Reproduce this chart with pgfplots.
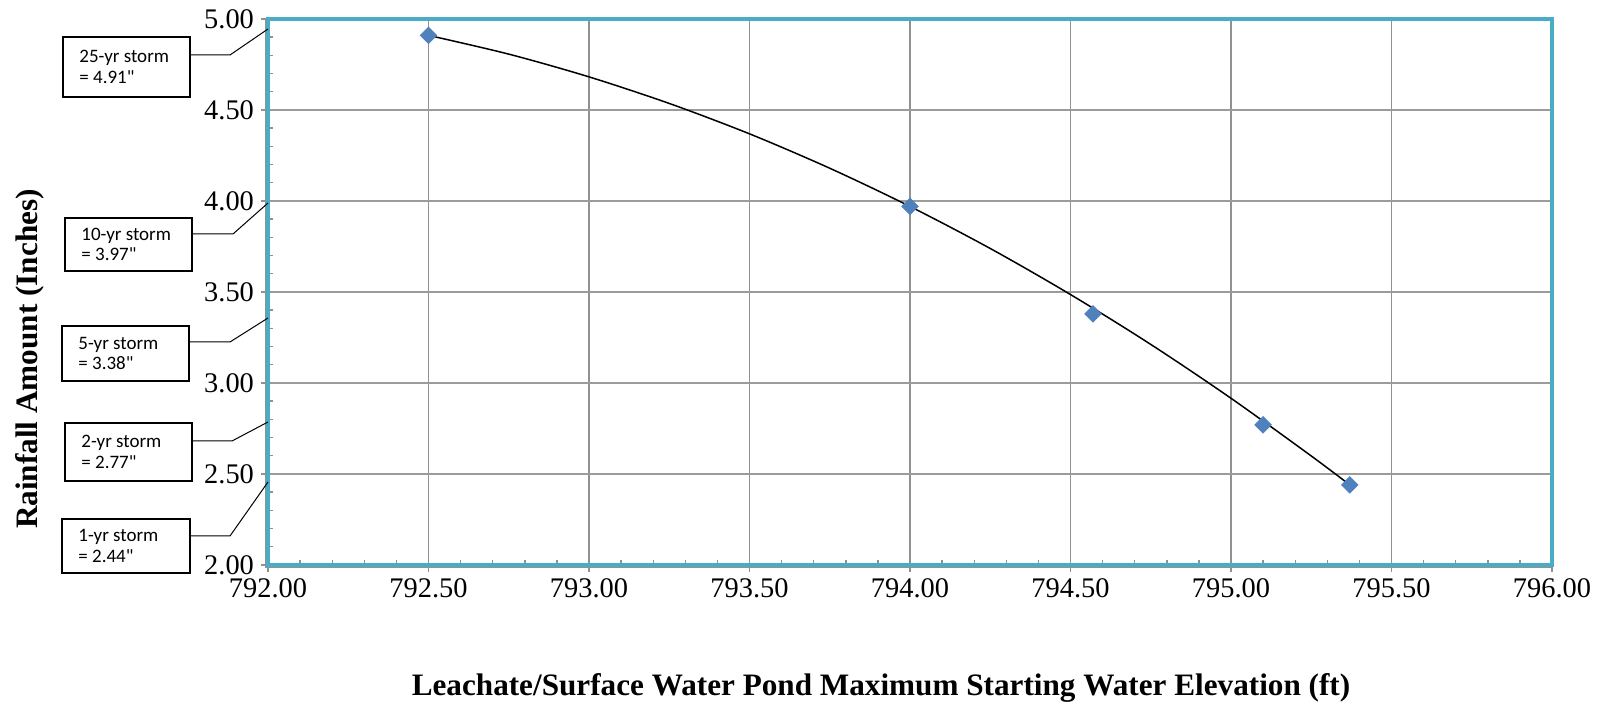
\documentclass[border=0pt]{standalone}
\usepackage{fontspec}
\setmainfont{Liberation Serif}
\newfontfamily\calib{Carlito}
\usepackage{pgfplots}
\pgfplotsset{compat=1.18}
\definecolor{aqua}{RGB}{75,172,198}
\definecolor{mkblue}{RGB}{79,129,189}
\definecolor{gridv}{RGB}{145,145,145}
\definecolor{gridh}{RGB}{155,155,155}
\begin{document}
\begin{tikzpicture}
\path[use as bounding box] (0,0) rectangle (802pt,352.5pt);
\begin{axis}[
  at={(134pt,70pt)}, anchor=south west,
  scale only axis, width=642pt, height=273pt,
  xmin=792, xmax=796, ymin=2, ymax=5,
  xtick={792,792.5,...,796}, ytick={2,2.5,...,5},
  minor x tick num=4, minor y tick num=4,
  xtick pos=lower, ytick pos=left,
  tick align=outside, major tick length=3.5pt, minor tick length=-2.5pt,
  major tick style={draw=gridv, line width=0.9pt},
  minor tick style={draw=gridv, line width=0.7pt},
  grid=major,
  major x grid style={draw=gridv, line width=0.9pt},
  major y grid style={draw=gridh, line width=0.9pt},
  axis line style={draw=aqua, line width=2pt},
  /pgf/number format/assume math mode=true,
  /pgf/number format/.cd, fixed, fixed zerofill, precision=2,
  /pgfplots/.cd,
  ticklabel style={font=\fontsize{14.2}{14.2}\selectfont},
  clip=false,
]
\addplot[black, line width=0.75pt, smooth, no marks] coordinates {
  (792.50,4.910) (792.75,4.807) (793.00,4.682) (793.25,4.536)
  (793.50,4.369) (793.75,4.180) (794.00,3.970) (794.25,3.739)
  (794.50,3.486) (794.75,3.212) (795.00,2.916) (795.25,2.599)
  (795.37,2.440)
};
\addplot[only marks, mark=square*, mark size=2.9pt,
  mark options={rotate=45, fill=mkblue, draw=mkblue}] coordinates {
  (792.50,4.91) (794.00,3.97) (794.57,3.38) (795.10,2.77) (795.37,2.44)
};
\draw[gridv, line width=0.7pt] ([xshift=-1.3pt]rel axis cs:0,1) -- ([xshift=-1.3pt,yshift=-1.3pt]rel axis cs:0,0) -- ([yshift=-1.3pt]rel axis cs:1,0);
\end{axis}
% axis titles
\node[rotate=90, font=\fontsize{15.6}{15.6}\selectfont\bfseries] at (15pt,173pt) {Rainfall Amount (Inches)};
\node[font=\fontsize{15.6}{15.6}\selectfont\bfseries] at (440.5pt,8.5pt) {Leachate/Surface Water Pond Maximum Starting Water Elevation (ft)};
% callouts
\tikzset{cbox/.style={draw=black, line width=0.6pt, fill=white}, cline/.style={draw=black, line width=0.5pt},
  ctext/.style={anchor=west, align=left, font=\calib\fontsize{9.5}{10.2}\selectfont, inner sep=0pt}}
\draw[cbox] (31.5pt,304pt) rectangle (95pt,334pt);
\node[ctext] at (39.5pt,319pt) {25-yr storm\\= 4.91"};
\draw[cline] (95pt,325pt) -- (115pt,325pt) -- (134pt,338pt);
\draw[cbox] (32.5pt,217pt) rectangle (96pt,243.5pt);
\node[ctext] at (40.5pt,230.25pt) {10-yr storm\\= 3.97"};
\draw[cline] (96pt,235.5pt) -- (116.5pt,235.5pt) -- (134pt,251pt);
\draw[cbox] (31pt,162pt) rectangle (94.5pt,189.5pt);
\node[ctext] at (39pt,175.75pt) {5-yr storm\\= 3.38"};
\draw[cline] (94.5pt,181.5pt) -- (115pt,181.5pt) -- (134pt,193.5pt);
\draw[cbox] (32.5pt,112pt) rectangle (96pt,141pt);
\node[ctext] at (40.5pt,126.5pt) {2-yr storm\\= 2.77"};
\draw[cline] (96pt,132pt) -- (116pt,132pt) -- (134pt,141.5pt);
\draw[cbox] (31pt,66pt) rectangle (95pt,93pt);
\node[ctext] at (39pt,79.5pt) {1-yr storm\\= 2.44"};
\draw[cline] (95pt,84.5pt) -- (115pt,84.5pt) -- (134pt,111.5pt);
\end{tikzpicture}
\end{document}
